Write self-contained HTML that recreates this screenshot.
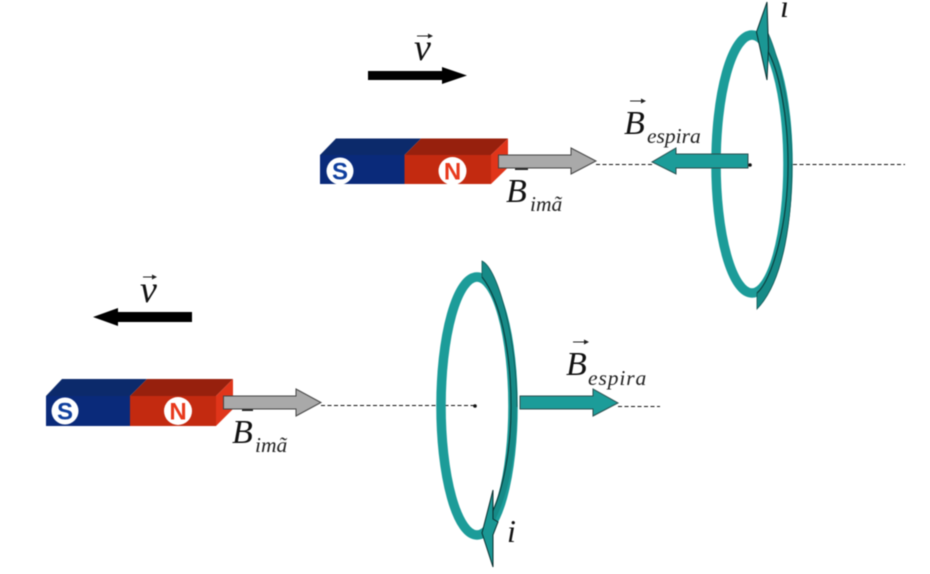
<!DOCTYPE html>
<html>
<head>
<meta charset="utf-8">
<style>
html,body{margin:0;padding:0;background:#fff;width:930px;height:574px;overflow:hidden}
svg{display:block;filter:blur(0.45px)}
text{font-family:"Liberation Serif",serif;font-style:italic;fill:#111}
.b{font-size:34px}.v{font-size:38px}.s{font-size:21.500px;fill:#222}.i{font-size:32px}
.p{font-family:"Liberation Sans",sans-serif;font-style:normal;font-weight:bold;font-size:24px;text-anchor:middle}
</style>
</head>
<body>
<svg width="930" height="574" viewBox="0 0 930 574" xmlns="http://www.w3.org/2000/svg">
<rect width="930" height="574" fill="#fff"/>

<!-- dashed axes -->
<g stroke="#111" stroke-width="1" stroke-dasharray="4 2.500" fill="none">
<line x1="596" y1="164.500" x2="652" y2="164.500"/>
<line x1="793" y1="164.500" x2="905" y2="164.500"/>
<line x1="321" y1="405.500" x2="475" y2="405.500"/>
<line x1="618" y1="406.500" x2="660" y2="406.500"/>
</g>
<circle cx="750" cy="165" r="1.800" fill="#111"/>
<circle cx="475" cy="406" r="1.800" fill="#111"/>

<!-- top scene: velocity -->
<polygon points="368,71 442,71 442,67 467,75.500 442,84 442,80 368,80" fill="#000"/>
<text class="v" x="414" y="60">v</text>
<g stroke="#222" stroke-width="1" fill="#222"><line x1="417" y1="36" x2="431" y2="36"/><polygon points="428,33.500 433,36 428,38.500" stroke="none"/></g>

<!-- top magnet -->
<polygon points="320,155 336,138.500 421,138.500 404.500,155" fill="#0c2a6b"/>
<polygon points="404.500,155 421,138.500 508,138.500 491,155" fill="#97200d"/>
<rect x="320" y="155" width="84.500" height="29" fill="#0a2a7a"/>
<rect x="404.500" y="155" width="86.500" height="29" fill="#c32a10"/>
<polygon points="491,155 508,138.500 508,167.500 491,184" fill="#e0351a"/>
<circle cx="340" cy="171" r="13.500" fill="#fff"/>
<circle cx="452.500" cy="171" r="14" fill="#fff"/>
<text class="p" x="340" y="179.500" style="fill:#0f3f9e">S</text>
<text class="p" x="452.500" y="179.500" style="fill:#e8391c">N</text>

<!-- top B ima -->
<rect x="515" y="167" width="13" height="3" fill="#222"/>
<text class="b" x="506" y="202">B</text>
<text class="s" x="530" y="211">imã</text>
<polygon points="498.500,155 571,155 571,148 596,161 571,174 571,168 498.500,168" fill="#a9a9a9" stroke="#444" stroke-width="1"/>

<!-- top loop -->
<ellipse cx="752" cy="164" rx="36" ry="129" fill="none" stroke="#1c9c99" stroke-width="9.500"/>
<path d="M768,33 C778,55 792,110 792,164 C792,215 785,280 757,309 L757,293 C772,280 788,225 788,164 C788,120 780,70 766,48 Z" fill="#168a87"/>
<path d="M757,293 C772,280 788,225 788,164 C788,120 780,70 766,48" fill="none" stroke="#0b3f3e" stroke-width="1.200"/>
<path d="M768,33 C778,55 792,110 792,164" fill="none" stroke="#0f6a68" stroke-width="0.800"/>
<path d="M792,164 C792,215 785,280 757,309 L757,293" fill="none" stroke="#0f5553" stroke-width="0.800"/>
<polygon points="767,2 756.500,32 767,80 768.500,48 768,33" fill="#1a9794" stroke="#0a2f2f" stroke-width="1"/>
<text class="i" x="780" y="17">i</text>

<!-- top B espira -->
<polygon points="748,154 676,154 676,148 652,162 676,174 676,168 748,168" fill="#1c9c99" stroke="#2a4f4e" stroke-width="1"/>
<text class="b" x="624" y="134">B</text>
<text class="s" x="647" y="143">espira</text>
<g stroke="#222" stroke-width="1" fill="#222"><line x1="630" y1="101" x2="644" y2="101"/><polygon points="641,98.500 646,101 641,103.500" stroke="none"/></g>

<!-- bottom scene: velocity -->
<polygon points="93,317 118,308 118,312 192,312 192,322 118,322 118,326" fill="#000"/>
<text class="v" x="140" y="302">v</text>
<g stroke="#222" stroke-width="1" fill="#222"><line x1="143" y1="277" x2="155" y2="277"/><polygon points="152,274.500 157,277 152,279.500" stroke="none"/></g>

<!-- bottom magnet -->
<polygon points="46,396 62,379 147,379 130,396" fill="#0c2a6b"/>
<polygon points="130,396 147,379 233,379 216,396" fill="#97200d"/>
<rect x="46" y="396" width="84" height="30" fill="#0a2a7a"/>
<rect x="130" y="396" width="86" height="30" fill="#c32a10"/>
<polygon points="216,396 233,379 233,409 216,426" fill="#e0351a"/>
<circle cx="65" cy="411" r="13.500" fill="#fff"/>
<circle cx="178" cy="411" r="14" fill="#fff"/>
<text class="p" x="65" y="419.500" style="fill:#0f3f9e">S</text>
<text class="p" x="178" y="419.500" style="fill:#e8391c">N</text>

<!-- bottom B ima -->
<rect x="242" y="408" width="11" height="3" fill="#222"/>
<text class="b" x="232" y="443">B</text>
<text class="s" x="255" y="452">imã</text>
<polygon points="223.500,396 296,396 296,389 321,402.500 296,416 296,409 223.500,409" fill="#a9a9a9" stroke="#444" stroke-width="1"/>

<!-- bottom loop -->
<ellipse cx="477" cy="406" rx="36" ry="129" fill="none" stroke="#1c9c99" stroke-width="9.500"/>
<path d="M482,261 C498,268 517,340 517,407 C517,455 508,495 494,522 L491,515 C503,490 511,450 511,407 C511,350 500,300 482,277 Z" fill="#168a87"/>
<path d="M491,515 C503,490 511,450 511,407 C511,350 500,300 482,277" fill="none" stroke="#0b3f3e" stroke-width="1.200"/>
<path d="M482,277 L482,261 C498,268 517,340 517,407" fill="none" stroke="#0f5553" stroke-width="0.800"/>
<polygon points="493,490 482,533 493,567 493,535 498,522 493,519" fill="#1a9794" stroke="#0a2f2f" stroke-width="1"/>
<text class="i" x="507" y="542">i</text>

<!-- bottom B espira -->
<polygon points="520,396 593,396 593,389 618,403 593,416 593,409 520,409" fill="#1c9c99" stroke="#2a4f4e" stroke-width="1"/>
<text class="b" x="566" y="375">B</text>
<text class="s" x="588" y="385" style="letter-spacing:0.900px">espira</text>
<g stroke="#222" stroke-width="1" fill="#222"><line x1="573" y1="342" x2="587" y2="342"/><polygon points="584,339.500 589,342 584,344.500" stroke="none"/></g>
</svg>
</body>
</html>
